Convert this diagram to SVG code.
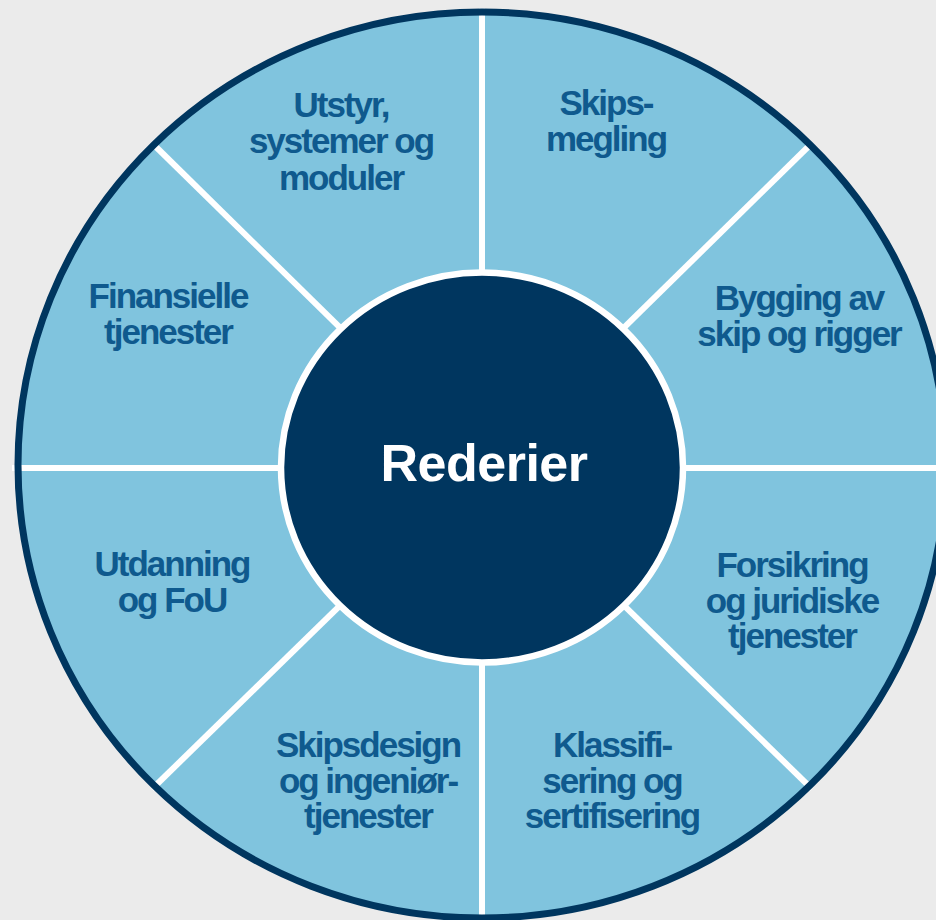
<svg xmlns="http://www.w3.org/2000/svg" width="936" height="920" viewBox="0 0 936 920">
<style>
.lbl{font-family:"Liberation Sans",Arial,sans-serif;font-weight:bold;font-size:35px;letter-spacing:-2px;fill:#0f5a8e;text-anchor:middle}
.hub{font-family:"Liberation Sans",Arial,sans-serif;font-weight:bold;font-size:52px;letter-spacing:-0.5px;fill:#ffffff;text-anchor:middle}
.spoke{stroke:#ffffff;stroke-width:6;fill:none}
</style>
<rect x="0" y="0" width="936" height="920" fill="#ebebeb"/>
<ellipse id="wheel" cx="482" cy="465" rx="464" ry="453" fill="#80c4de"/>
<g id="connectors">
<line class="spoke" x1="482" y1="467" x2="482" y2="8"/>
<line class="spoke" x1="482" y1="467" x2="482" y2="925"/>
<line class="spoke" x1="482" y1="468" x2="12" y2="468"/>
<line class="spoke" x1="482" y1="468" x2="950" y2="468"/>
<line class="spoke" x1="482" y1="467" x2="812" y2="143"/>
<line class="spoke" x1="482" y1="467" x2="152" y2="143"/>
<line class="spoke" x1="482" y1="467" x2="812" y2="789"/>
<line class="spoke" x1="482" y1="467" x2="152" y2="789"/>
</g>
<ellipse cx="482" cy="465" rx="464" ry="453" fill="none" stroke="#00365f" stroke-width="7"/>
<g id="hub">
<ellipse cx="482" cy="467.5" rx="201" ry="195" fill="#00365f" stroke="#ffffff" stroke-width="6.5"/>
<text class="hub" x="484" y="481">Rederier</text>
</g>
<g id="utstyr">
<text class="lbl" x="341" y="117">Utstyr,</text>
<text class="lbl" x="341" y="153">systemer og</text>
<text class="lbl" x="341" y="190">moduler</text>
</g>
<g id="skipsmegling">
<text class="lbl" x="606" y="115">Skips-</text>
<text class="lbl" x="606" y="151">megling</text>
</g>
<g id="bygging">
<text class="lbl" x="799" y="310">Bygging av</text>
<text class="lbl" x="799" y="346">skip og rigger</text>
</g>
<g id="forsikring">
<text class="lbl" x="792" y="577">Forsikring</text>
<text class="lbl" x="792" y="613">og juridiske</text>
<text class="lbl" x="792" y="648">tjenester</text>
</g>
<g id="klassifisering">
<text class="lbl" x="612" y="757">Klassifi-</text>
<text class="lbl" x="612" y="793">sering og</text>
<text class="lbl" x="612" y="828">sertifisering</text>
</g>
<g id="skipsdesign">
<text class="lbl" x="368" y="757">Skipsdesign</text>
<text class="lbl" x="368" y="793">og ingeniør-</text>
<text class="lbl" x="368" y="828">tjenester</text>
</g>
<g id="utdanning">
<text class="lbl" x="172" y="576">Utdanning</text>
<text class="lbl" x="172" y="612">og FoU</text>
</g>
<g id="finansielle">
<text class="lbl" x="168" y="308">Finansielle</text>
<text class="lbl" x="168" y="344">tjenester</text>
</g>
</svg>
